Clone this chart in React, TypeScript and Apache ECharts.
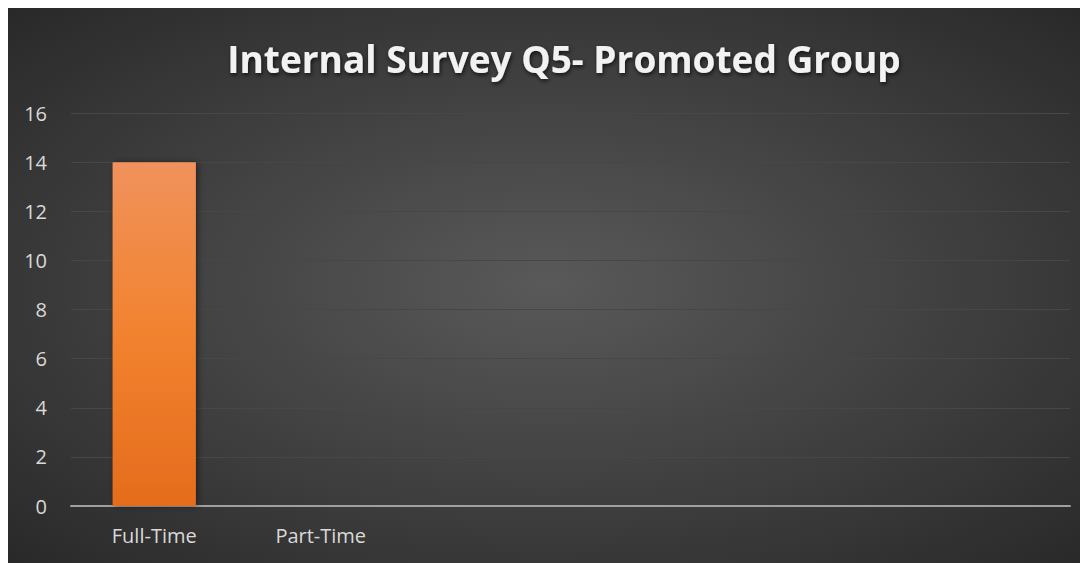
import React, { useEffect, useRef } from "react";
import * as echarts from "echarts";

const titleText = "Internal Survey Q5- Promoted Group";
const categories = ["Full-Time", "Part-Time", "", "", "", ""];
const values = [14, 0, null, null, null, null];
const yMin = 0;
const yMax = 16;
const yInterval = 2;

export default function App() {
  const ref = useRef<HTMLDivElement>(null);
  useEffect(() => {
    if (!ref.current) return;
    const chart = echarts.init(ref.current, undefined, { renderer: "svg" });
    chart.setOption({
      animation: false,
      backgroundColor: {
        type: "radial",
        x: 0.5,
        y: 0.5,
        r: 0.75,
        colorStops: [
          { offset: 0, color: "#595959" },
          { offset: 1, color: "#262626" },
        ],
      },
      title: {
        text: titleText,
        left: 551,
        top: 27,
        textAlign: "center",
        textStyle: {
          color: "#f2f2f2",
          fontFamily: "Open Sans",
          fontWeight: "bold",
          fontSize: 37,
          textShadowColor: "rgba(0,0,0,0.7)",
          textShadowBlur: 4,
          textShadowOffsetX: 1,
          textShadowOffsetY: 2,
        },
      },
      grid: { left: 63, right: 18, top: 105, bottom: 57 },
      xAxis: {
        type: "category",
        data: categories,
        axisLine: { lineStyle: { color: "#a0a0a0", width: 2 } },
        axisTick: { show: false },
        axisLabel: {
          color: "#d9d9d9",
          fontFamily: "Open Sans",
          fontSize: 20,
          margin: 19,
          interval: 0,
        },
      },
      yAxis: {
        type: "value",
        min: yMin,
        max: yMax,
        interval: yInterval,
        axisLine: { show: false },
        axisTick: { show: false },
        splitLine: { lineStyle: { color: "#474747", width: 1 } },
        axisLabel: {
          color: "#d9d9d9",
          fontFamily: "Open Sans",
          fontSize: 20,
          margin: 24,
        },
      },
      series: [
        {
          type: "bar",
          data: values,
          barWidth: "50%",
          itemStyle: {
            color: {
              type: "linear",
              x: 0,
              y: 0,
              x2: 0,
              y2: 1,
              colorStops: [
                { offset: 0, color: "#f0925c" },
                { offset: 0.5, color: "#f2822f" },
                { offset: 1, color: "#e46c1c" },
              ],
            },
            shadowColor: "rgba(0,0,0,0.45)",
            shadowBlur: 6,
            shadowOffsetX: 2,
            shadowOffsetY: 0,
          },
        },
      ],
    });
    return () => chart.dispose();
  }, []);
  return <div ref={ref} style={{ width: 1080, height: 555 }} />;
}
